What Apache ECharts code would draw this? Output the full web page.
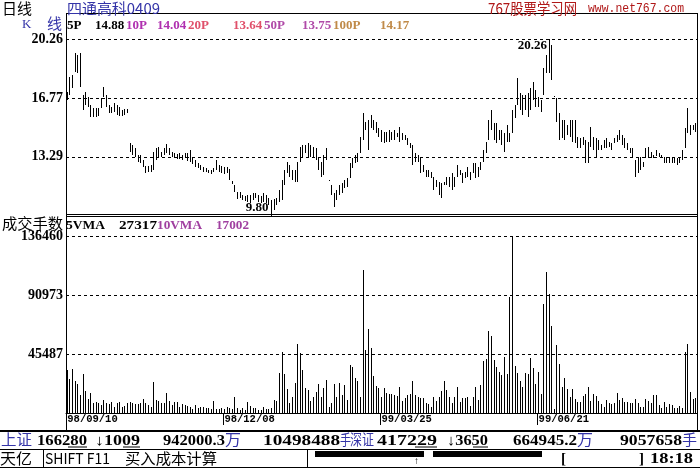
<!DOCTYPE html>
<html><head><meta charset="utf-8">
<script src="https://cdn.jsdelivr.net/npm/echarts@6/dist/echarts.min.js"></script>
<style>html,body{margin:0;padding:0;background:#fff}#c{width:700px;height:469px}</style>
</head><body><div id="c"></div>
<script>
// ---- data ----
const high = [17.13,18.01,18.13,19.43,19.31,19.43,16.95,17.13,16.83,16.36,
16.18,16.18,16.18,16.77,17.42,16.95,16.36,16.24,16.47,16.36,
16.24,16.06,16.12,16.12,14.11,13.99,13.81,13.40,13.40,13.10,
12.75,12.75,12.81,13.58,13.81,13.87,13.58,13.81,14.05,13.81,
13.58,13.52,13.46,13.52,13.40,13.52,13.52,13.69,13.28,13.10,
12.93,12.81,12.69,12.63,12.51,12.51,12.63,13.10,12.81,12.75,
12.69,12.69,12.57,11.86,11.62,11.21,11.21,11.03,10.97,11.03,
11.03,11.15,11.15,11.03,10.97,11.15,11.03,10.85,10.74,10.80,
10.85,11.33,11.92,12.51,12.98,12.81,12.51,12.51,12.98,13.87,
13.99,13.99,14.11,13.99,13.87,13.81,13.28,12.98,13.40,13.81,
11.92,11.62,11.15,11.33,11.62,11.74,11.92,12.04,12.93,13.22,
13.40,13.52,14.46,15.88,15.35,15.47,15.76,15.47,15.35,15.00,
14.88,14.76,14.76,14.88,14.76,14.88,14.70,15.05,14.70,14.58,
14.40,14.11,13.99,13.52,13.40,13.28,12.81,12.51,12.51,12.39,
12.10,11.92,11.80,11.74,11.80,12.10,12.10,12.33,12.10,12.81,
12.51,12.33,12.39,12.69,12.39,12.93,12.93,12.69,12.98,13.69,
14.17,15.47,16.06,15.29,15.29,14.88,14.88,14.70,15.17,14.70,
16.06,16.36,17.95,17.07,16.95,16.95,17.07,17.36,17.72,17.24,
16.83,16.65,18.54,19.31,20.26,19.91,16.86,16.77,15.88,15.47,
15.47,15.17,15.47,15.47,15.47,14.46,14.40,14.46,14.29,14.17,
15.05,14.46,14.40,14.29,13.99,14.29,14.40,14.17,14.11,14.40,
14.58,14.88,14.58,14.40,14.11,13.81,13.81,13.10,13.22,13.28,
12.98,13.81,13.87,13.58,13.40,13.69,13.52,13.40,13.28,13.28,
13.28,13.22,13.28,13.22,13.28,13.69,15.00,16.18,15.17,15.17,
15.29];
const low = [16.65,16.95,17.36,18.31,18.25,17.42,16.06,16.36,16.24,15.65,
15.65,15.65,15.71,16.18,16.83,16.24,15.88,15.88,15.94,15.76,
15.71,15.71,15.76,15.88,13.58,13.40,13.28,12.98,12.93,12.69,
12.33,12.39,12.39,12.51,13.10,13.28,13.28,13.40,13.52,13.40,
13.28,13.22,13.16,13.16,13.10,13.22,13.04,12.98,12.87,12.69,
12.63,12.51,12.39,12.39,12.33,12.27,12.39,12.51,12.39,12.33,
12.27,12.33,11.92,11.68,11.21,10.80,10.85,10.74,10.68,10.62,
10.56,10.74,10.85,10.62,10.56,10.62,10.56,10.44,9.80,10.15,
10.44,10.62,10.74,11.62,12.33,12.10,11.92,11.80,11.80,12.98,
13.22,13.52,13.28,13.28,13.28,13.10,12.51,12.10,12.21,13.10,
11.86,11.03,10.32,10.74,11.03,11.15,11.45,11.51,12.04,12.63,
12.93,12.98,13.52,14.29,14.88,13.69,15.00,14.88,14.70,14.46,
14.17,14.11,14.17,14.17,14.29,14.29,14.46,14.17,14.29,14.29,
13.99,13.81,12.81,12.98,12.98,12.33,12.39,12.10,12.10,12.04,
11.33,11.51,11.03,10.85,11.62,11.62,11.51,11.33,11.51,12.10,
12.21,11.74,12.04,12.10,11.92,12.33,12.04,12.10,12.51,12.98,
13.52,14.29,14.88,14.29,14.11,14.29,13.99,13.58,14.17,14.17,
14.70,15.59,16.36,16.06,15.76,16.06,15.65,16.06,16.65,16.24,
16.24,15.94,16.95,18.25,18.25,17.83,16.80,15.35,14.29,14.40,
14.29,14.58,14.46,14.17,14.11,13.81,13.81,13.99,12.93,12.93,
13.87,13.69,13.28,13.69,13.69,13.81,13.81,13.87,13.69,14.11,
14.17,14.29,13.99,13.81,13.69,13.52,13.22,12.10,12.33,12.51,
12.69,13.22,13.28,13.22,13.22,13.34,13.28,13.22,12.93,12.93,
12.93,12.93,12.93,12.81,12.93,13.10,13.81,14.70,14.58,14.88,
14.76];
const volume = [33100,26200,33700,24700,22400,14000,30000,17000,10800,15200,
8000,8200,8000,6500,10000,7500,6900,8200,4900,7500,
8200,5000,5600,7700,8500,7500,6900,6900,7700,10800,
8000,6200,5000,23900,10000,9500,7500,7500,15200,9300,
6000,8700,8200,4900,6700,6200,5400,4400,3000,6200,
3600,4900,4400,3600,3600,3100,9300,2800,2800,3600,
2800,4900,3600,2800,12100,3600,2500,3600,2000,8200,
5400,3600,3600,2300,2000,4400,2800,2800,3600,10300,
9500,31100,46800,30000,18500,8000,12600,23400,53200,46000,
33200,19500,17700,9000,12600,16400,22400,12600,19500,25400,
4900,8000,22100,12600,23400,13900,21600,10000,37000,35700,
26700,24700,12000,110300,48600,64800,50300,28800,20800,19000,
12000,19000,15200,14700,14700,13900,13100,20300,9000,11800,
13900,14400,24700,13900,12600,11300,11300,8000,6700,5000,
12600,9300,12600,17000,24700,17700,12600,8000,12600,20300,
8700,11300,11300,12100,5400,12000,20300,10000,21600,40100,
41600,63500,59400,40900,35700,31800,29300,43400,29800,89700,
136460,36200,31100,25000,20300,31100,30000,42600,35000,22400,
31800,15000,84000,109000,91700,67000,2800,52400,37800,20300,
27200,18500,12000,18500,10800,8700,8700,13300,14700,20300,
9000,14400,13300,9300,6900,4900,10000,7500,6900,8000,
15700,10000,11800,8700,8200,8000,7500,10800,8000,5000,
4900,10800,9500,8000,13900,13900,6200,4000,8200,4400,
6900,6200,3600,3600,5400,4000,47300,53200,16400,10800,
11800];
const dateTickIndex = [0, 60, 120, 180];
const dateTickLabel = ['98/09/10', '98/12/08', '99/03/25', '99/06/21'];
const priceRange = [9.80, 20.26];       // axis min / max (labels shown: 13.29, 16.77, 20.26)
const volumeRange = [0, 136460];        // axis min / max (labels shown: 45487, 90973, 136460)
const maNames = ['5P', '10P', '20P', '50P', '100P'];
const maValues = ['14.88', '14.04', '13.64', '13.75', '14.17'];
const vmaNames = ['5VMA', '10VMA'];
const vmaValues = ['27317', '17002'];
const shIndex = ['166280', '↓1009', '942000.3', '10498488'];
const szIndex = ['417229', '↓3650', '664945.2', '9057658'];

// ---- build ----
const categories = high.map((_, i) => String(i));
const kData = high.map((h, i) => [i, low[i], h]);
const vData = volume.map((v, i) => [i, v]);
let maxIdx = 0, minIdx = 0;
high.forEach((h, i) => { if (h > high[maxIdx]) maxIdx = i; });
low.forEach((l, i) => { if (l < low[minIdx]) minIdx = i; });

const SERIF = '"Liberation Serif", "DejaVu Serif", serif';
const CJK = '"Noto Sans CJK SC", sans-serif';
const MONO = '"Liberation Mono", "DejaVu Sans Mono", monospace';
const BLUE = '#3434a8';
const RED = '#b01818';

const mctx = document.createElement('canvas').getContext('2d');
function txt(x, y, text, color, font, w) {
  let s = 1;
  if (w) { mctx.font = font; const m = mctx.measureText(text).width; if (m > 0) s = w / m; }
  return {type: 'text', x: x, y: y, scaleX: s, silent: true, z: 50,
    style: {text: text, fill: color, font: font, verticalAlign: 'top', align: 'left'}};
}
function line(x1, y1, x2, y2, w, color) {
  return {type: 'line', silent: true, z: 40,
    shape: {x1: x1, y1: y1, x2: x2, y2: y2},
    style: {stroke: color || '#000', lineWidth: w || 1}};
}
function rect(x, y, w, h, color) {
  return {type: 'rect', silent: true, z: 40, shape: {x: x, y: y, width: w, height: h}, style: {fill: color}};
}

const LEG = 'bold 13px ' + SERIF;
const maColors = ['#000000', '#b030b0', '#e0506a', '#b04aa8', '#c08a48'];
const maNameX = [67, 126, 188, 264, 333];
const maValX = [95, 157, 233, 302, 380];
const ST = 'bold 15px ' + SERIF;
const graphics = [
  // frames
  line(66.5, 13, 66.5, 431, 1),
  line(697.5, 13, 697.5, 431, 1),
  line(66, 13.5, 698, 13.5, 1),
  line(66, 214.5, 698, 214.5, 1),
  line(66, 216.5, 698, 216.5, 1),
  line(0, 431, 700, 431, 2),
  line(0, 449.5, 700, 449.5, 1),
  line(0, 467.5, 700, 467.5, 1),
  // header
  txt(2, 1, '日线', '#000', '15px ' + CJK),
  txt(67, 1, '四通高科0409', BLUE, '15px ' + CJK, 93),
  txt(488, 1, '767股票学习网', RED, '15px ' + CJK, 89),
  txt(588, 3, 'www.net767.com', RED, '12px ' + MONO, 96),
  txt(22, 18, 'K', BLUE, '13px ' + SERIF),
  txt(47, 16, '线', BLUE, '15px ' + CJK),
  txt(2, 216, '成交手数', '#000', '15px ' + CJK, 61),
  // status bar
  txt(1, 432, '上证', BLUE, '15px ' + CJK, 31),
  txt(37, 434, shIndex[0], '#000', ST, 50),
  line(68, 447, 87, 447, 1),
  txt(95, 434, shIndex[1], '#000', ST, 45),
  line(123, 447, 140, 447, 1),
  txt(163, 434, shIndex[2], '#000', ST, 62),
  txt(225, 432, '万', BLUE, '15px ' + CJK, 16),
  txt(263, 434, shIndex[3], '#000', ST, 77),
  txt(340, 432, '手', BLUE, '15px ' + CJK, 11),
  txt(350, 432, '深证', BLUE, '15px ' + CJK, 24),
  txt(377, 434, szIndex[0], '#000', ST, 60),
  line(415, 447, 437, 447, 1),
  txt(447, 434, szIndex[1], '#000', ST, 41),
  line(473, 447, 488, 447, 1),
  txt(513, 434, szIndex[2], '#000', ST, 64),
  txt(577, 432, '万', BLUE, '15px ' + CJK, 16),
  txt(620, 434, szIndex[3], '#000', ST, 62),
  txt(682, 432, '手', BLUE, '15px ' + CJK, 15),
  txt(0, 451, '天亿', '#000', '15px ' + CJK, 32),
  line(43.5, 449, 43.5, 468, 1),
  txt(45, 451, 'SHIFT F11', '#000', '15px ' + CJK, 65),
  txt(125, 451, '买入成本计算', '#000', '15px ' + CJK, 92),
  line(307.5, 449, 307.5, 468, 1),
  rect(315, 451, 109, 6, '#000'),
  rect(433, 451, 109, 6, '#000'),
  txt(414, 456, '↑', '#000', '10px ' + SERIF),
  txt(561, 452, '[', '#000', 'bold 15px ' + SERIF),
  txt(639, 452, ']', '#000', 'bold 15px ' + SERIF),
  txt(650, 452, '18:18', '#000', ST, 43)
];
maNames.forEach((n, i) => {
  graphics.push(txt(maNameX[i], 19, n, maColors[i], LEG));
  graphics.push(txt(maValX[i], 19, maValues[i], maColors[i], LEG));
});
const vmaColors = ['#000', '#a040a0'];
const vmaNameX = [66, 157], vmaNameW = [39, 45];
const vmaValX = [119, 216], vmaValW = [38, 33];
vmaNames.forEach((n, i) => {
  graphics.push(txt(vmaNameX[i], 219, n, vmaColors[i], 'bold 13px ' + SERIF, vmaNameW[i]));
  graphics.push(txt(vmaValX[i], 219, vmaValues[i], vmaColors[i], 'bold 13px ' + SERIF, vmaValW[i]));
});

function vLine(x, yA, yB) {
  const xr = Math.floor(x) + 0.5;
  let y1 = Math.round(Math.min(yA, yB)), y2 = Math.round(Math.max(yA, yB));
  if (y2 - y1 < 1) y2 = y1 + 1;
  return {type: 'line', shape: {x1: xr, y1: y1, x2: xr, y2: y2}, style: {stroke: '#000', lineWidth: 1}};
}

const axisLabelStyle = {color: '#000', fontFamily: SERIF, fontWeight: 'bold', fontSize: 14, margin: 3};
const option = {
  animation: false,
  backgroundColor: '#fff',
  grid: [
    {left: 66, right: 3, top: 39, height: 176.8},
    {left: 66, right: 3, top: 236, height: 177}
  ],
  xAxis: [
    {gridIndex: 0, type: 'category', data: categories, boundaryGap: true,
     axisLine: {show: false}, axisTick: {show: false}, axisLabel: {show: false}, splitLine: {show: false}},
    {gridIndex: 1, type: 'category', data: categories, boundaryGap: true,
     axisLine: {show: true, lineStyle: {color: '#000', width: 1}},
     axisTick: {show: true, length: 12, interval: (i) => dateTickIndex.indexOf(i) >= 0, lineStyle: {color: '#000'}},
     axisLabel: {show: true, interval: (i) => dateTickIndex.indexOf(i) >= 0,
       formatter: (v, i) => { const k = dateTickIndex.indexOf(i); return k >= 0 ? dateTickLabel[k] : ''; },
       align: 'left', margin: 1, color: '#000', fontFamily: MONO, fontWeight: 'bold', fontSize: 10.5},
     splitLine: {show: false}}
  ],
  yAxis: [
    {gridIndex: 0, type: 'value', min: priceRange[0], max: priceRange[1],
     interval: (priceRange[1] - priceRange[0]) / 3,
     axisLine: {show: true, lineStyle: {color: '#000'}}, axisTick: {show: false},
     axisLabel: Object.assign({}, axisLabelStyle, {showMinLabel: false, formatter: (v) => v.toFixed(2)}),
     splitLine: {show: true, lineStyle: {color: '#000', type: [3, 3], width: 1}}},
    {gridIndex: 1, type: 'value', min: volumeRange[0], max: volumeRange[1],
     interval: (volumeRange[1] - volumeRange[0]) / 3,
     axisLine: {show: true, lineStyle: {color: '#000'}}, axisTick: {show: false},
     axisLabel: Object.assign({}, axisLabelStyle, {showMinLabel: false, formatter: (v) => String(Math.round(v))}),
     splitLine: {show: true, lineStyle: {color: '#000', type: [3, 3], width: 1}}}
  ],
  series: [
    {type: 'custom', xAxisIndex: 0, yAxisIndex: 0, data: kData, encode: {x: 0, y: [1, 2]}, z: 5,
     renderItem: function (params, api) {
       const i = api.value(0);
       const pLow = api.coord([i, api.value(1)]);
       const pHigh = api.coord([i, api.value(2)]);
       return vLine(pLow[0], pHigh[1], pLow[1]);
     },
     markPoint: {symbolSize: 0, symbol: 'circle',
       label: {show: true, color: '#000', fontFamily: SERIF, fontWeight: 'bold', fontSize: 13, formatter: (p) => p.value.toFixed(2)},
       data: [
         {coord: [maxIdx, high[maxIdx]], value: high[maxIdx], label: {position: 'left', offset: [0, 7], distance: 2}},
         {coord: [minIdx, low[minIdx]], value: low[minIdx], label: {position: 'left', offset: [0, -8], distance: 3}}
       ]}},
    {type: 'custom', xAxisIndex: 1, yAxisIndex: 1, data: vData, encode: {x: 0, y: 1}, z: 5,
     renderItem: function (params, api) {
       const i = api.value(0);
       const p0 = api.coord([i, 0]);
       const p1 = api.coord([i, api.value(1)]);
       return vLine(p0[0], p1[1], p0[1]);
     }}
  ],
  graphic: graphics
};
const chart = echarts.init(document.getElementById('c'), null, {renderer: 'canvas'});
chart.setOption(option);
</script></body></html>
